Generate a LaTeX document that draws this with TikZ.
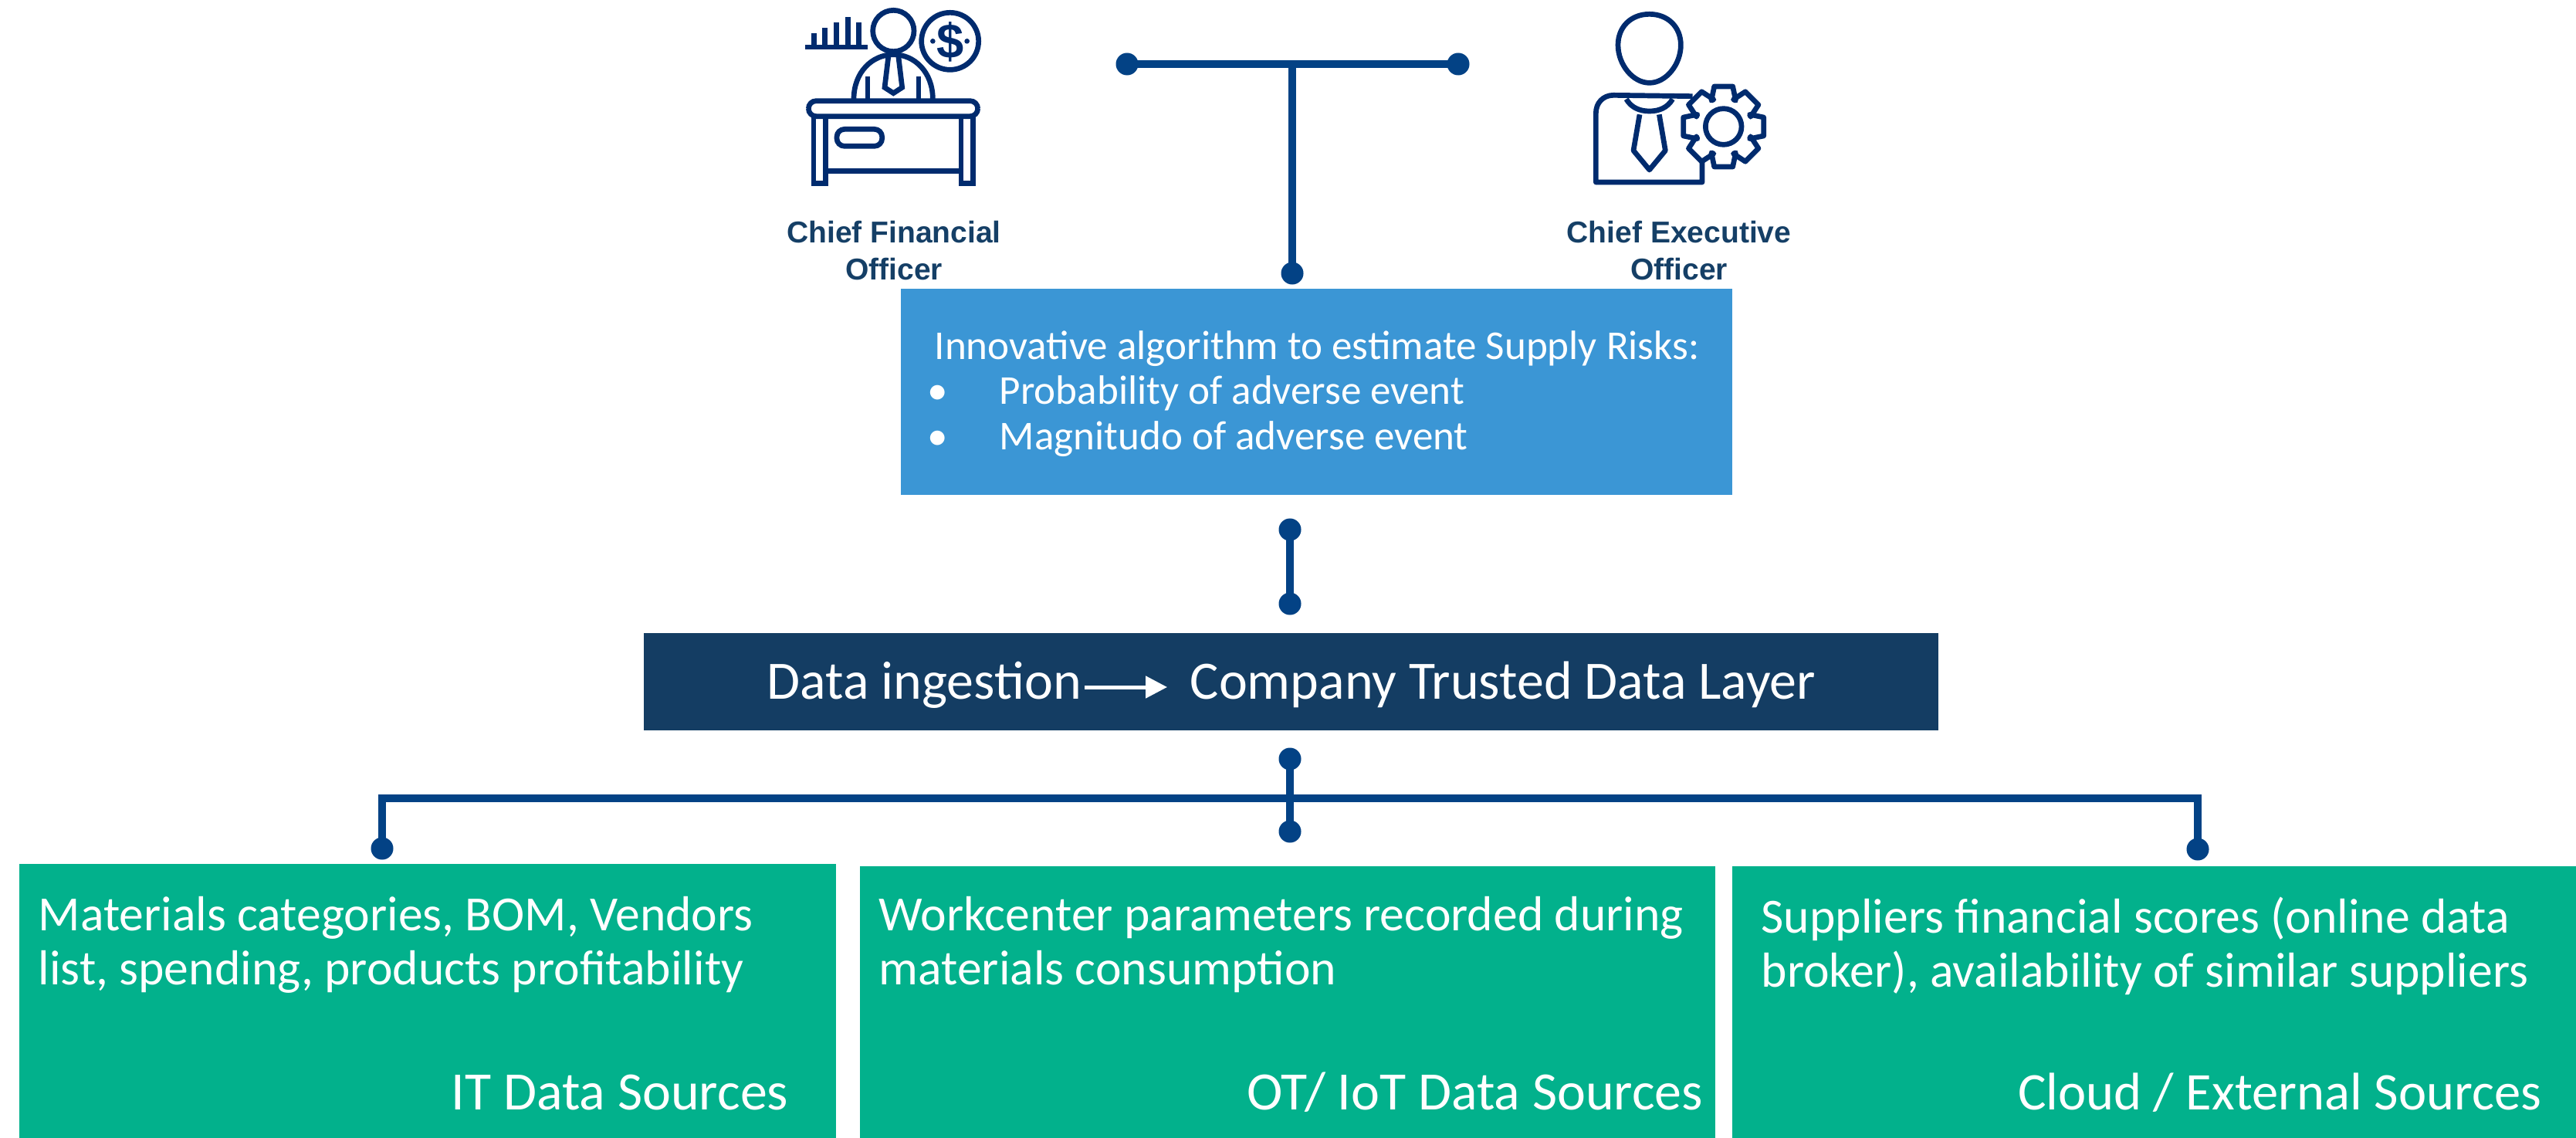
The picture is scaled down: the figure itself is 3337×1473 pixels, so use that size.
\documentclass[tikz,border=0pt]{standalone}
\usepackage{fontspec}
\setmainfont{Carlito}
\newfontfamily\labelfont{Liberation Sans}
\usetikzlibrary{arrows.meta, calc, positioning}

\definecolor{linkblue}{HTML}{034285}
\definecolor{iconblue}{HTML}{002B6E}
\definecolor{labelblue}{HTML}{153F66}
\definecolor{riskblue}{HTML}{3B96D5}
\definecolor{layerblue}{HTML}{143D63}
\definecolor{sourcegreen}{HTML}{02B18C}

\tikzset{
  dotnode/.style={circle, fill=linkblue, inner sep=0pt, minimum size=0.29cm},
  link/.style={draw=linkblue, line width=0.1cm, line cap=rect},
  boxnode/.style={rectangle, inner sep=0pt, anchor=north west},
  whitetext/.style={text=white, inner sep=0pt, align=left, font=\fontsize{18.1}{19.9}\selectfont},
  bigtext/.style={whitetext, font=\fontsize{19.9}{24}\selectfont},
  officer/.style={text=labelblue, inner sep=0pt, align=center, font=\labelfont\bfseries\fontsize{11.1}{13.4}\selectfont},
  icon/.style={draw=iconblue, line width=0.067cm}
}

\begin{document}
\begin{tikzpicture}[x=0.01cm, y=-0.01cm]
      \useasboundingbox (0, 0) rectangle (3337, 1473);

      % Nodes
      \node[boxnode, fill=riskblue, minimum width=10.77cm, minimum height=2.67cm] (risk) at (1166, 373) {};
      \node[boxnode, fill=layerblue, minimum width=16.76cm, minimum height=1.26cm] (layer) at (833, 819) {};
      \node[boxnode, fill=sourcegreen, minimum width=10.58cm, minimum height=3.55cm] (it) at (24, 1118) {};
      \node[boxnode, fill=sourcegreen, minimum width=11.08cm, minimum height=3.52cm] (ot) at (1113, 1121) {};
      \node[boxnode, fill=sourcegreen, minimum width=10.94cm, minimum height=3.52cm] (cloud) at (2243, 1121) {};

      \node[whitetext, anchor=north west, font=\fontsize{15.1}{16.6}\selectfont] (risktext) at (1210, 428) {Innovative algorithm to estimate Supply Risks:\\
        \makebox[0.84cm][l]{\hspace{-2.5pt}•}Probability of adverse event\\
        \makebox[0.84cm][l]{\hspace{-2.5pt}•}Magnitudo of adverse event};

      \node[bigtext, anchor=base west] (ingest) at (993, 905) {Data ingestion};
      \node[bigtext, anchor=base west] (trusted) at (1541, 905) {Company Trusted Data Layer};
      \coordinate (arrowa) at (1405, 890);
      \coordinate (arrowb) at (1512, 890);

      \node[whitetext, anchor=north west] (itdesc) at (49, 1161) {Materials categories, BOM, Vendors\\list, spending, products profitability};
      \node[whitetext, anchor=north west] (otdesc) at (1138, 1161) {Workcenter parameters recorded during\\materials consumption};
      \node[whitetext, anchor=north west] (clouddesc) at (2281, 1161) {Suppliers financial scores (online data\\broker), availability of similar suppliers};
      \node[bigtext, anchor=base east] (itname) at (1022, 1437) {IT Data Sources};
      \node[bigtext, anchor=base east] (otname) at (2207, 1437) {OT/ IoT Data Sources};
      \node[bigtext, anchor=base east, font=\fontsize{19.5}{24}\selectfont] (cloudname) at (3293, 1437) {Cloud / External Sources};

      \node[officer, anchor=north] (cfo) at (1158, 286) {Chief Financial\\Officer};
      \node[officer, anchor=north] (ceo) at (2175, 286) {Chief Executive\\Officer};

      \node[dotnode] (topl) at (1460, 83) {};
      \node[dotnode] (topr) at (1889, 83) {};
      \node[dotnode] (riskup) at (1674, 354) {};
      \coordinate (topj) at (1674, 83);

      \node[dotnode] (riskdn) at (1671, 686) {};
      \node[dotnode] (layerup) at (1671, 782) {};

      \node[dotnode] (layerdn) at (1671, 983) {};
      \node[dotnode] (itdot) at (495, 1099) {};
      \node[dotnode] (otdot) at (1671, 1077) {};
      \node[dotnode] (clouddot) at (2847, 1100) {};
      \coordinate (busl) at (495, 1034);
      \coordinate (busr) at (2847, 1034);

      % Edges
      \path[link] (topl) edge (topr)
                  (topj) edge (riskup)
                  (riskdn) edge (layerup)
                  (layerdn) edge (otdot)
                  (busl) edge (busr)
                         edge (itdot)
                  (busr) edge (clouddot);
      \draw[white, line width=0.05cm, -{Triangle[length=0.28cm, width=0.28cm, fill=white]}] (arrowa) -- (arrowb);

      % CFO icon
      \begin{scope}[shift={(950, 0)}, scale=1/3]
        \draw[icon] (280, 183) -- (522, 183);
        \foreach \x/\ytop in {313/130, 355/108, 400/88, 445/65, 488/88}
          \draw[icon] (\x, 183) -- (\x, \ytop);
        \draw[icon] (622, 120) circle (80);
        \draw[icon] (842, 160) circle (111);
        \fill[iconblue] (775, 160) circle (10) (908, 160) circle (10);
        \node[text=iconblue, inner sep=0pt, font=\labelfont\bfseries\fontsize{18}{18}\selectfont] (dollar) at (842, 162) {\$};
        \draw[icon] (468, 385) .. controls (468, 280) and (540, 212) .. (622, 212)
                    .. controls (704, 212) and (775, 280) .. (775, 385);
        \draw[icon] (522, 298) -- (522, 385) (720, 298) -- (720, 385);
        \draw[icon] (603, 215) -- (588, 340) -- (622, 362) -- (656, 340) -- (641, 215);
        \draw[icon, rounded corners=0.1cm] (292, 392) rectangle (950, 452);
        \draw[icon] (312, 452) -- (312, 712) -- (358, 712) -- (358, 452);
        \draw[icon] (885, 452) -- (885, 712) -- (932, 712) -- (932, 452);
        \draw[icon] (358, 665) -- (885, 665);
        \draw[icon, rounded corners=0.1cm] (402, 502) rectangle (578, 568);
      \end{scope}

      % CEO icon
      \begin{scope}[shift={(1950, 0)}, scale=1/3]
        \draw[icon] (560, 55) .. controls (632, 55) and (682, 105) .. (682, 175)
                    .. controls (682, 250) and (625, 322) .. (560, 322)
                    .. controls (495, 322) and (438, 250) .. (438, 175)
                    .. controls (438, 105) and (488, 55) .. (560, 55);
        \draw[icon, line join=round] (728, 374) -- (420, 370) .. controls (380, 370) and (352, 400) .. (352, 440)
                    -- (352, 708) -- (765, 708) -- (765, 625);
        \draw[icon] (470, 385) .. controls (490, 420) and (525, 432) .. (560, 432)
                    .. controls (595, 432) and (630, 420) .. (650, 385);
        \draw[icon, line join=round] (522, 445) -- (498, 585) -- (560, 660) -- (622, 585) -- (598, 445);
        \draw[icon] (848, 492) circle (70);
        \draw[icon, line join=round] ($(848, 492) + (-25:112)$)
          \foreach \a in {0, 45, ..., 315} {
            -- ($(848, 492) + (\a-25:112)$) -- ($(848, 492) + (\a-13:160)$) -- ($(848, 492) + (\a+13:160)$) -- ($(848, 492) + (\a+25:112)$)
          } -- cycle;
      \end{scope}
    \end{tikzpicture}
\end{document}
